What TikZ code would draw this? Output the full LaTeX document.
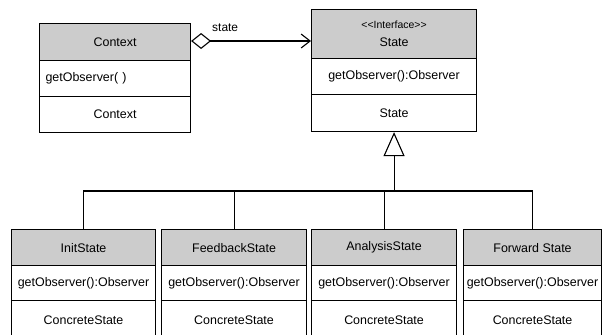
\documentclass[tikz,border=0pt]{standalone}
\usepackage{fontspec}
\setmainfont{Liberation Sans}
\usetikzlibrary{arrows.meta,calc}
\begin{document}
\begin{tikzpicture}[x=1bp,y=-1bp,
  box/.style={draw=black, line width=1.1bp, inner sep=0pt, anchor=north west, font=\fontsize{12.5}{14}\selectfont},
  hdr/.style={box, fill=black!20},
  meth/.style={box},
  foot/.style={box},
  link/.style={draw=black, line width=1.1bp},
  lbl/.style={font=\fontsize{12}{14}\selectfont, inner sep=0pt}
]
\useasboundingbox (0,0) rectangle (606,334);
\clip (0,0) rectangle (606,334);
\fill[white] (0,0) rectangle (606,334);

% Context
\node[hdr, minimum width=151bp, minimum height=37bp] (ctxH) at (39,23) {Context};
\node[meth, minimum width=151bp, minimum height=36bp, text width=139bp, align=left] (ctxM) at (39,60) {getObserver( )};
\node[foot, minimum width=151bp, minimum height=36bp] (ctxF) at (39,96) {Context};

% State
\node[hdr, minimum width=165bp, minimum height=49bp, align=center] (stH) at (311,9)
  {{\fontsize{10.5}{12}\selectfont <\kern0pt<Interface>\kern0pt>}\\[4bp]State};
\node[meth, minimum width=165bp, minimum height=36bp] (stM) at (311,58) {getObserver():Observer};
\node[foot, minimum width=165bp, minimum height=37bp] (stF) at (311,94) {State};

% Concrete states
\foreach \n/\x/\w/\t in {init/11/144/InitState, feed/161/145/FeedbackState, anal/311/145/AnalysisState, forw/463/138/Forward State}{
  \node[hdr, minimum width=\w bp, minimum height=36bp] (\n H) at (\x,229) {\t};
  \node[meth, minimum width=\w bp, minimum height=35bp] (\n M) at (\x,265) {getObserver():Observer};
  \node[foot, minimum width=\w bp, minimum height=40bp] (\n F) at (\x,300) {ConcreteState};
}

% aggregation
\coordinate (aggEnd) at (stH.west |- 0,41);
\draw[link, {Diamond[open,length=20bp,width=16bp,line width=1.1bp]}-{Straight Barb[length=9bp,width=14bp,line width=1.1bp]}]
  (ctxH.east |- aggEnd) -- (aggEnd);
\node[lbl, anchor=south west] (stateLbl) at (212,32) {state};

% inheritance
\coordinate (bus) at (stF.south |- 0,191);
\draw[link] (initH.north) |- (forwH.north |- bus) -- (forwH.north);
\draw[link] (feedH.north) -- (feedH.north |- bus);
\draw[link] (analH.north) -- (analH.north |- bus);
\draw[link, -{Triangle[open,length=24bp,width=21bp,line width=1.1bp]}] (bus) -- (stF.south);
\end{tikzpicture}
\end{document}
